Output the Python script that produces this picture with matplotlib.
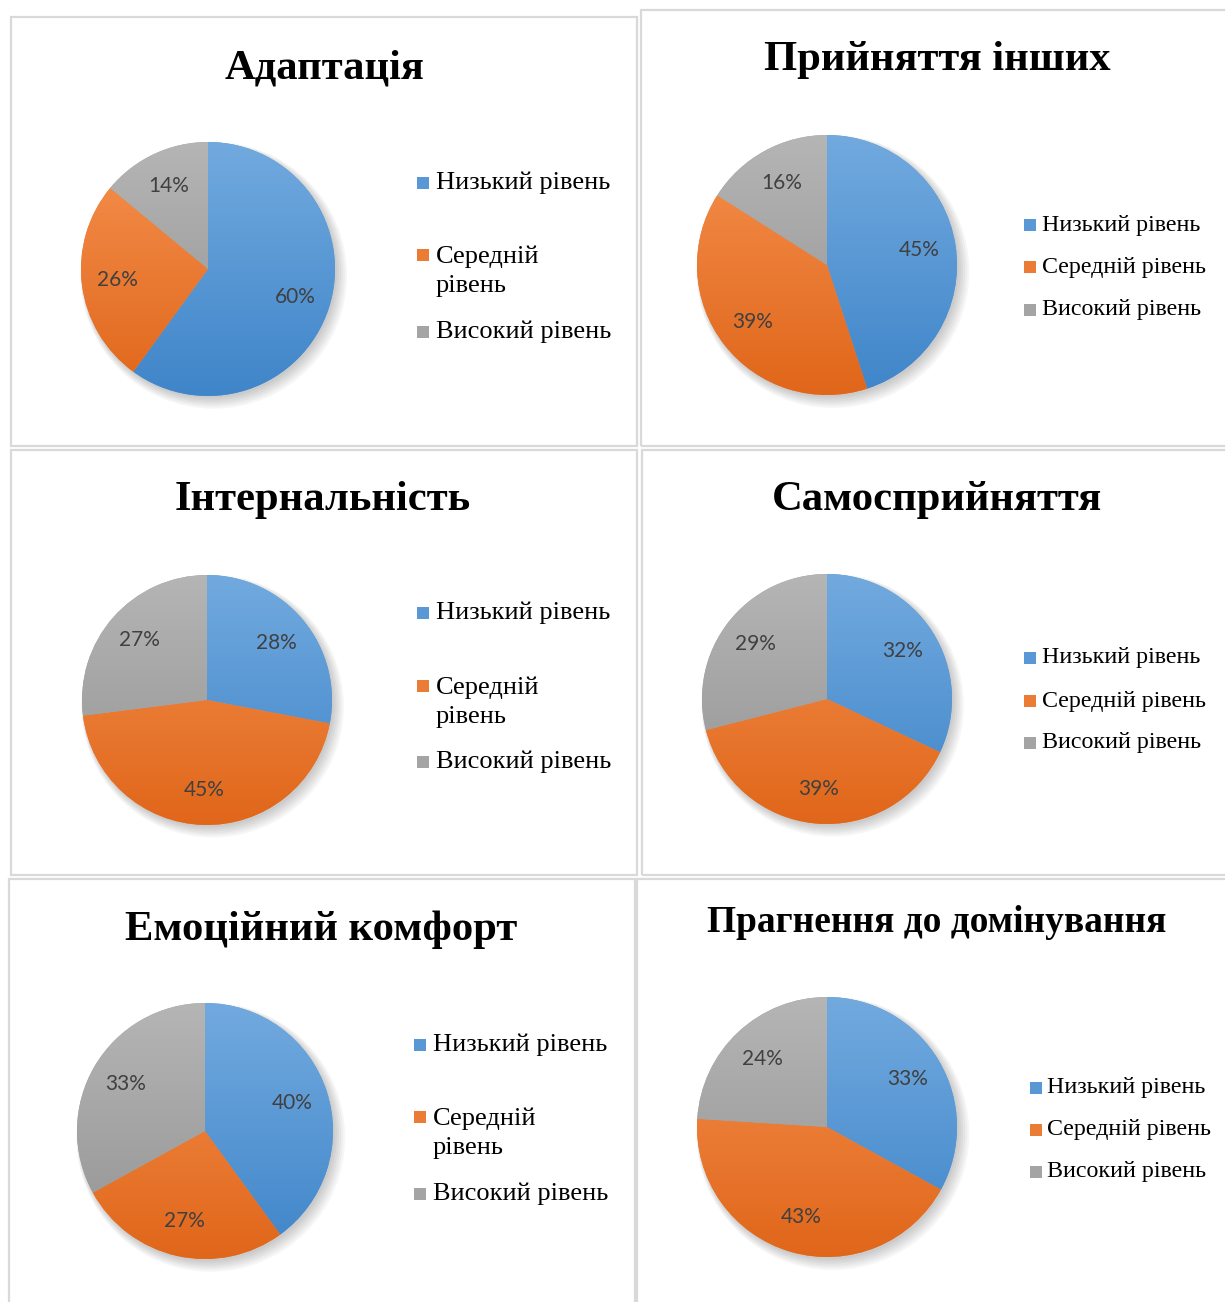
import numpy as np
import matplotlib
matplotlib.use("Agg")
import matplotlib.pyplot as plt
from matplotlib.patches import Rectangle
from matplotlib.colors import to_rgb

W, H = 1225, 1302

titles = ["Адаптація", "Прийняття інших", "Інтернальність",
          "Самосприйняття", "Емоційний комфорт", "Прагнення до домінування"]
levels = ["Низький рівень", "Середній рівень", "Високий рівень"]
low = [60, 45, 28, 32, 40, 33]
mid = [26, 39, 45, 39, 27, 43]
high = [14, 16, 27, 29, 33, 24]

colors = ["#5b9bd5", "#ed7d31", "#a5a5a5"]
# gradient ends (top, bottom) for each slice colour
grad_top = ["#72aadf", "#f5914f", "#b5b5b5"]
grad_bot = ["#3f85c9", "#e0661a", "#939393"]

# layout in pixels: border box, pie centre / radius, title, legend
boxes = [(11, 17, 637, 446), (641, 10, 1232, 446), (11, 450, 637, 875),
         (642, 450, 1232, 875), (9, 879, 635, 1308), (637, 879, 1232, 1308)]
pies = [(208, 269, 127), (827, 265, 130), (207, 700, 125),
        (827, 699, 125), (205, 1131, 128), (827, 1127, 130)]
title_pos = [(325, 68, 30.7), (937, 60, 30.7), (323, 500, 30.7),
             (937, 500, 30.7), (321, 930, 30.7), (937, 923, 26.9)]
# legend: square x, text x, y of each entry, font size, wrap mid label
legends = [(417, 436, [183, 271, 332], 19, True),
           (1024, 1042, [225, 267, 310], 17.3, False),
           (417, 436, [613, 702, 762], 19, True),
           (1024, 1042, [658, 701, 743], 17.3, False),
           (414, 433, [1045, 1133, 1194], 19, True),
           (1030, 1047, [1088, 1130, 1172], 17.3, False)]

fig = plt.figure(figsize=(W / 100, H / 100), dpi=100)


def fx(x):
    return x / W


def fy(y):
    return 1 - y / H


for i in range(6):
    x0, y0, x1, y1 = boxes[i]
    fig.patches.append(Rectangle((fx(x0), fy(y1)), (x1 - x0) / W, (y1 - y0) / H,
                                 transform=fig.transFigure, fill=False,
                                 edgecolor="#d9d9d9", linewidth=1.6))

    cx, cy, r = pies[i]
    m = 1.12
    ax = fig.add_axes([fx(cx - r * m), fy(cy + r * m), 2 * r * m / W, 2 * r * m / H])
    ax.axis("off")

    # soft shadow
    for k in range(6):
        ax.add_patch(plt.Circle((0.015 + 0.006 * k, -0.02 - 0.006 * k), 1.0 + 0.01 * k,
                                color="black", alpha=0.035, zorder=0, lw=0))

    vals = [low[i], mid[i], high[i]]
    wedges, _, autotexts = ax.pie(vals, colors=colors, startangle=90, counterclock=False,
                                  radius=1, autopct="%1.0f%%", pctdistance=0.72,
                                  textprops=dict(color="#404040", fontsize=15,
                                                 family="Lato"),
                                  wedgeprops=dict(linewidth=0))
    for w, c0, c1 in zip(wedges, grad_top, grad_bot):
        top, bot = np.array(to_rgb(c0)), np.array(to_rgb(c1))
        g = np.linspace(0, 1, 256)[:, None, None]
        img = top[None, None, :] * (1 - g) + bot[None, None, :] * g
        im = ax.imshow(img, extent=(-1, 1, -1, 1), origin="upper", aspect="auto",
                       zorder=1.5)
        im.set_clip_path(w)
    for t in autotexts:
        t.set_zorder(3)
    ax.set_xlim(-m, m)
    ax.set_ylim(-m, m)
    ax.set_aspect("equal")

    tx, ty, ts = title_pos[i]
    fig.text(fx(tx), fy(ty), titles[i], ha="center", va="center", fontsize=ts,
             fontweight="bold", family="Liberation Serif", color="black")

    sx, txx, ys, fs, wrap = legends[i]
    sq = 12
    for lab, c0, c1, yy in zip(levels, grad_top, grad_bot, ys):
        if wrap and lab.startswith("Середній"):
            lab = lab.replace(" ", "\n")
            yy_sq = yy - 16
        else:
            yy_sq = yy
        g = np.linspace(0, 1, 2)
        mixc = np.array(to_rgb(c0)) * 0.5 + np.array(to_rgb(c1)) * 0.5
        fig.patches.append(Rectangle((fx(sx), fy(yy_sq + sq / 2)), sq / W, sq / H,
                                     transform=fig.transFigure, color=mixc, lw=0))
        fig.text(fx(txx), fy(yy), lab, ha="left", va="center", fontsize=fs,
                 family="Liberation Serif", color="black", linespacing=1.42)

fig.savefig("out.png", dpi=100, facecolor="white")
